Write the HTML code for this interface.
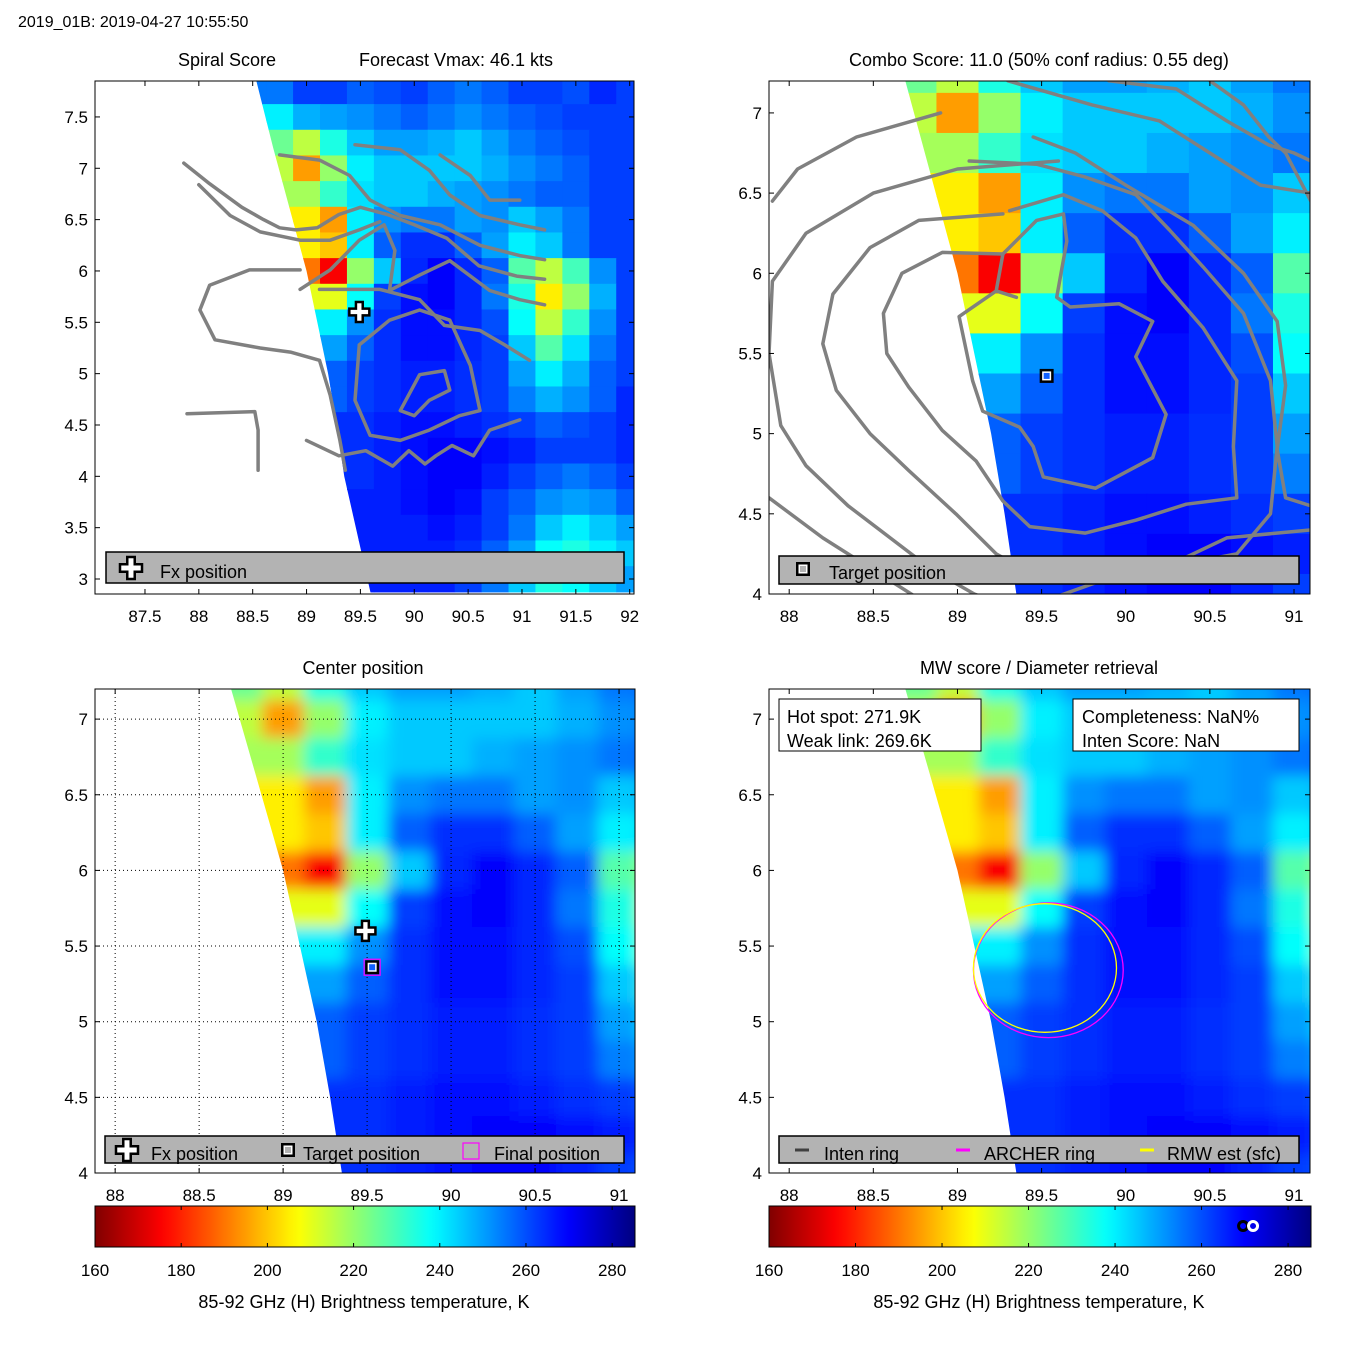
<!DOCTYPE html>
<html><head><meta charset="utf-8"><style>
html,body{margin:0;padding:0;background:#fff}
svg{display:block;font-family:"Liberation Sans",sans-serif}
</style></head><body>
<svg id="root" width="1350" height="1350" viewBox="0 0 1350 1350" xmlns="http://www.w3.org/2000/svg">
<defs id="defs"></defs>
<text x="18" y="27" font-size="16">2019_01B: 2019-04-27 10:55:50</text>
<text x="227" y="66" font-size="18" text-anchor="middle">Spiral Score</text>
<text x="456" y="66" font-size="18" text-anchor="middle">Forecast Vmax: 46.1 kts</text>
<text x="1039" y="66" font-size="18" text-anchor="middle">Combo Score: 11.0  (50% conf radius: 0.55 deg)</text>
<text x="363" y="674" font-size="18" text-anchor="middle">Center position</text>
<text x="1039" y="674" font-size="18" text-anchor="middle">MW score / Diameter retrieval</text>
<text x="364" y="1308" font-size="18" text-anchor="middle">85-92 GHz (H) Brightness temperature, K</text>
<text x="1039" y="1308" font-size="18" text-anchor="middle">85-92 GHz (H) Brightness temperature, K</text>
</svg>
<script>
// ---- data ----
const lons=[88,88.25,88.5,88.75,89,89.25,89.5,89.75,90,90.25,90.5,90.75,91,91.25,91.5,91.75,92];
const lats=[7.75,7.5,7.25,7.0,6.75,6.5,6.25,6.0,5.75,5.5,5.25,5.0,4.75,4.5,4.25,4.0,3.75,3.5,3.25,3.0];
const tb=[
[250,250,250,255,262,262,258,260,262,258,255,258,262,262,260,265,262],
[250,250,250,240,248,250,252,255,258,255,252,255,258,260,262,262,262],
[230,230,230,225,215,235,245,250,250,248,245,250,255,258,260,262,262],
[215,215,215,215,195,220,240,245,245,245,245,248,252,255,258,262,262],
[220,220,220,220,218,232,242,245,245,248,250,252,255,258,258,262,262],
[210,210,210,210,205,195,240,252,255,255,250,252,245,250,255,262,262],
[205,205,205,205,205,200,240,258,264,264,258,250,240,245,255,262,262],
[190,190,190,190,190,175,220,245,265,270,265,258,228,215,230,252,262],
[205,205,205,205,205,210,238,262,268,270,265,255,235,205,220,248,262],
[240,240,240,240,240,240,252,264,268,268,265,260,238,215,232,252,262],
[250,250,250,250,250,250,258,264,268,268,265,262,245,228,242,255,262],
[255,255,255,255,255,258,262,264,266,266,264,262,250,240,248,258,262],
[258,258,258,258,258,258,262,264,266,266,264,262,254,248,252,258,265],
[262,262,262,262,262,262,264,266,268,268,266,264,262,258,260,262,265],
[264,264,264,264,264,264,264,266,268,270,270,268,266,262,262,262,265],
[264,264,264,264,264,264,264,266,268,270,270,266,262,258,255,258,262],
[266,266,266,266,266,266,266,266,268,270,268,262,258,252,250,252,258],
[266,266,266,266,266,266,266,266,266,268,266,262,255,245,240,245,250],
[264,264,264,264,264,264,264,266,266,266,264,258,250,238,235,240,245],
[264,264,264,264,264,264,264,266,266,266,262,255,245,235,238,245,250]];
// swath left edge (lat, lon)
const edgeLat=[7.95,7.2,6.0,5.5,5.0,4.5,4.0,2.7];
const edgeLon=[88.51,88.69,89.0,89.1,89.2,89.28,89.35,89.63];
// panel 1 contours
const c1Lon=[[87.89,88.52,88.55,88.55],[88.94,88.47,88.10,88.01,88.15,88.57,88.85,89.12,89.22,89.31,89.36],[88.0,88.29,88.57,88.94,89.22,89.49,89.68],[88.75,89.12,89.40,89.59,89.87,90.24,90.61,90.98,91.21],[89.45,89.87,90.14,90.33,90.61,90.98,91.21],[88.94,89.22,89.49,89.72,89.82,89.77,90.05,90.33,90.70,90.98,91.21],[89.12,89.68,90.05,90.28,90.61,90.84,91.07],[89.49,89.77,90.05,90.33,90.52,90.61,90.42,90.14,89.87,89.59,89.45,89.49],[89.87,90.05,90.28,90.33,90.14,90.0,89.87],[90.24,90.52,90.70,90.98],[87.86,88.1,88.4,88.6,88.75,88.9,89.1,89.3,89.5,89.75,90.0,90.3,90.6,90.95,91.21],[89.0,89.3,89.55,89.8,89.95,90.1,90.2,90.35,90.55,90.7,90.98]];
const c1Lat=[[4.61,4.63,4.45,4.06],[6.01,6.01,5.86,5.62,5.33,5.25,5.21,5.13,4.79,4.35,4.06],[6.84,6.54,6.38,6.30,6.30,6.40,6.48],[7.13,7.08,6.93,6.69,6.54,6.45,6.25,6.15,6.11],[7.23,7.18,6.98,6.74,6.54,6.45,6.40],[5.82,6.01,6.30,6.45,6.2,5.81,5.96,6.10,5.81,5.72,5.67],[5.82,5.82,5.72,5.47,5.42,5.28,5.13],[5.28,5.52,5.62,5.52,5.08,4.64,4.59,4.45,4.35,4.40,4.74,5.28],[4.64,4.99,5.03,4.84,4.74,4.59,4.64],[7.13,6.93,6.69,6.69],[7.05,6.85,6.62,6.50,6.42,6.40,6.42,6.55,6.62,6.55,6.45,6.32,6.05,5.95,5.92],[4.35,4.2,4.25,4.1,4.25,4.12,4.2,4.3,4.2,4.45,4.55]];
// panel 2 contours
const c2Lon=[[89.35,89.23,89.01,89.09,89.15,89.37,89.45,89.51,89.82,90.16,90.24,90.06,90.16,89.96,89.67,89.59,89.65,89.63,89.47,89.27,89.23],[89.27,88.91,88.67,88.56,88.58,88.71,88.91,89.11,89.27,89.43,89.76,90.06,90.36,90.66,90.64,90.66,90.46,90.22,90.06,89.86,89.63,89.31],[89.27,88.77,88.48,88.26,88.20,88.28,88.48,88.71,88.99,89.23,89.47,89.86,90.26,90.66,90.86,90.90,90.86,90.70,90.46,90.26,90.06,89.76,89.47,89.07],[89.6,89.0,88.5,88.1,87.9,87.88,87.95,88.1,88.35,88.6,88.85,89.1,89.35],[88.9,88.4,88.05,87.9],[87.88,88.2,88.5,88.8,89.1],[89.3,89.8,90.2,90.5,90.8,91.1],[89.9,90.3,90.6,90.85,91.0,91.1],[90.5,90.7,90.85,90.95,91.1],[91.1,90.95,90.9,90.95,90.9,90.7,90.4,90.0,89.7,89.45],[89.5,89.9,90.3,90.6,91.1]];
const c2Lat=[[5.85,5.89,5.73,5.33,5.14,5.04,4.92,4.73,4.66,4.85,5.12,5.48,5.70,5.81,5.79,5.85,6.20,6.37,6.33,6.12,5.89],[6.12,6.13,6.0,5.75,5.50,5.29,5.02,4.83,4.58,4.42,4.38,4.46,4.56,4.60,4.92,5.33,5.66,5.95,6.22,6.39,6.49,6.39],[6.37,6.33,6.16,5.87,5.56,5.27,5.0,4.77,4.50,4.25,4.11,4.08,4.17,4.25,4.5,4.92,5.33,5.75,6.04,6.27,6.49,6.6,6.68,6.70],[6.7,6.65,6.5,6.25,5.95,5.5,5.05,4.8,4.55,4.35,4.15,4.0,3.9],[7.0,6.85,6.65,6.45],[4.6,4.35,4.15,3.95,3.8],[7.2,7.05,6.95,6.75,6.55,6.5],[7.2,7.15,6.95,6.8,6.75,6.7],[7.2,7.05,6.85,6.75,6.45],[4.55,4.6,4.9,5.3,5.7,6.0,6.3,6.55,6.75,6.85],[3.95,4.1,4.2,4.35,4.4]];
// markers
const fxLon=89.49, fxLat=5.6;
const tgtLon=89.53, tgtLat=5.36;
const archerLon=89.54, archerLat=5.34, archerR=0.445;
const rmwLon=89.52, rmwLat=5.355, rmwR=0.425;
const hotSpot=271.9, weakLink=269.6;
const cbTicks=[160,180,200,220,240,260,280];

const NS='http://www.w3.org/2000/svg';
const root=document.getElementById('root');
const defs=document.getElementById('defs');
function el(tag,attrs,parent){const e=document.createElementNS(NS,tag);for(const k in attrs)e.setAttribute(k,attrs[k]);(parent||root).appendChild(e);return e;}
function jet(v){let s=1-(v-160)/125.3;s=Math.max(0,Math.min(1,s));const c=x=>Math.round(255*Math.max(0,Math.min(1,x)));
 return 'rgb('+c(1.5-Math.abs(4*s-3))+','+c(1.5-Math.abs(4*s-2))+','+c(1.5-Math.abs(4*s-1))+')';}
function edgeAt(lat){for(let i=0;i<edgeLat.length-1;i++){if(lat<=edgeLat[i]&&lat>=edgeLat[i+1]){const f=(lat-edgeLat[i])/(edgeLat[i+1]-edgeLat[i]);return edgeLon[i]+f*(edgeLon[i+1]-edgeLon[i]);}}return lat>edgeLat[0]?edgeLon[0]:edgeLon[edgeLon.length-1];}

let pid=0;
function panel(p){
 pid++;
 const X=lon=>p.x0+(lon-p.lonMin)/(p.lonMax-p.lonMin)*(p.x1-p.x0);
 const Y=lat=>p.y1-(lat-p.latMin)/(p.latMax-p.latMin)*(p.y1-p.y0);
 p.X=X;p.Y=Y;
 const g=el('g',{});
 
 
 const cpA=el('clipPath',{id:'ax'+pid},defs);
 el('rect',{x:p.x0,y:p.y0,width:p.x1-p.x0,height:p.y1-p.y0},cpA);
 const cpS=el('clipPath',{id:'sw'+pid},defs);
 let pts=[];
 edgeLat.forEach((la,i)=>pts.push(X(edgeLon[i])+','+Y(la)));
 pts.push((p.x1+100)+','+Y(edgeLat[edgeLat.length-1]));pts.push((p.x1+100)+','+Y(edgeLat[0]));
 el('polygon',{points:pts.join(' ')},cpS);
 const ga=el('g',{'clip-path':'url(#ax'+pid+')'},g);
 const gs=el('g',{'clip-path':'url(#sw'+pid+')'},ga);
 let gh=gs;
 if(p.blur){const f=el('filter',{id:'bl'+pid,x:'-5%',y:'-5%',width:'110%',height:'110%'},defs);el('feGaussianBlur',{stdDeviation:p.blur},f);gh=el('g',{filter:'url(#bl'+pid+')'},gs);}
 
 
 lats.forEach((la,i)=>{
  const e=edgeAt(la);let first=null;
  lons.forEach((lo,j)=>{if(first===null&&lo>=e)first=tb[i][j];});
  lons.forEach((lo,j)=>{
   const v=(lo<e&&first!==null)?first:tb[i][j];
   const r=el('rect',{x:X(lo-0.125),y:Y(la+0.125),width:X(lo+0.125)-X(lo-0.125)+0.6,height:Y(la-0.125)-Y(la+0.125)+0.6,fill:jet(v)},gh);
   
   
  });
 });
 if(p.grid){
  p.xt.forEach(t=>{const l=el('line',{x1:X(t),x2:X(t),y1:p.y0,y2:p.y1,stroke:'#000','stroke-width':1,'stroke-dasharray':'1,3'},g);});
  p.yt.forEach(t=>{const l=el('line',{x1:p.x0,x2:p.x1,y1:Y(t),y2:Y(t),stroke:'#000','stroke-width':1,'stroke-dasharray':'1,3'},g);});
 }
 if(p.cLon){p.cLon.forEach((arr,k)=>{
  const d=arr.map((lo,m)=>(m?'L':'M')+X(lo).toFixed(1)+','+Y(p.cLat[k][m]).toFixed(1)).join(' ');
  const c=el('path',{d:d,fill:'none',stroke:'#808080','stroke-width':3.5,'stroke-linejoin':'round','stroke-linecap':'round'},ga);
  
  
 });}
 const fr=el('rect',{x:p.x0,y:p.y0,width:p.x1-p.x0,height:p.y1-p.y0,fill:'none',stroke:'#000','stroke-width':1},g);
 
 
 p.xt.forEach(t=>{const x=X(t);
  el('line',{x1:x,x2:x,y1:p.y1,y2:p.y1-5,stroke:'#000'},g);el('line',{x1:x,x2:x,y1:p.y0,y2:p.y0+5,stroke:'#000'},g);
  const tx=el('text',{x:x,y:p.y1+28,'font-size':17,'text-anchor':'middle'},g);tx.textContent=String(t);
  
  
 });
 p.yt.forEach(t=>{const y=Y(t);
  el('line',{x1:p.x0,x2:p.x0+5,y1:y,y2:y,stroke:'#000'},g);el('line',{x1:p.x1,x2:p.x1-5,y1:y,y2:y,stroke:'#000'},g);
  const tx=el('text',{x:p.x0-7,y:y+6,'font-size':17,'text-anchor':'end'},g);tx.textContent=String(t);
  
  
 });
 return g;
}
function cross(g,cx,cy,s){const a=s*0.17,b=s*0.5;
 const d=`M${cx-a},${cy-b}H${cx+a}V${cy-a}H${cx+b}V${cy+a}H${cx+a}V${cy+b}H${cx-a}V${cy+a}H${cx-b}V${cy-a}H${cx-a}Z`;
 return el('path',{d:d,fill:'#fff',stroke:'#000','stroke-width':2.5},g);}
function square(g,cx,cy,inner){const o=el('g',{},g);
 el('rect',{x:cx-7,y:cy-7,width:14,height:14,fill:'#000'},o);el('rect',{x:cx-4.5,y:cy-4.5,width:9,height:9,fill:'#fff'},o);el('rect',{x:cx-3,y:cy-3,width:6,height:6,fill:inner},o);return o;}
function legendBox(g,x,y,w,h){const r=el('rect',{x:x,y:y,width:w,height:h,fill:'#b3b3b3',stroke:'#000','stroke-width':1.5},g);return r;}
function txt(g,x,y,s,size){const t=el('text',{x:x,y:y,'font-size':size||18},g);t.textContent=s;return t;}

const xt1=[87.5,88,88.5,89,89.5,90,90.5,91,91.5,92],yt1=[3,3.5,4,4.5,5,5.5,6,6.5,7,7.5];
const xt2=[88,88.5,89,89.5,90,90.5,91],yt2=[4,4.5,5,5.5,6,6.5,7];
const P1={name:'spiral-score-panel',x0:95,x1:634,y0:81,y1:594,lonMin:87.036,lonMax:92.04,latMin:2.854,latMax:7.85,xt:xt1,yt:yt1,cLon:c1Lon,cLat:c1Lat};
const g1=panel(P1);
let m=cross(g1,P1.X(fxLon),P1.Y(fxLat),20);
legendBox(g1,106,552,518,31);
let li=cross(g1,131,568,22);
let lt=txt(g1,160,578,'Fx position');
const P2={name:'combo-score-panel',x0:769,x1:1310,y0:81,y1:594,lonMin:87.88,lonMax:91.095,latMin:4,latMax:7.199,xt:xt2,yt:yt2,cLon:c2Lon,cLat:c2Lat};
const g2=panel(P2);
m=square(g2,P2.X(tgtLon),P2.Y(tgtLat),'#1060ff');
legendBox(g2,779,556,520,28);
li=square(g2,803,569,'#b3b3b3');
lt=txt(g2,829,579,'Target position');
const P3={name:'center-position-panel',x0:95,x1:635,y0:689,y1:1173,lonMin:87.88,lonMax:91.095,latMin:4,latMax:7.199,xt:xt2,yt:yt2,grid:true,blur:7};
const g3=panel(P3);
m=cross(g3,P3.X(fxLon),P3.Y(fxLat),20);
m=square(g3,P3.X(tgtLon),P3.Y(tgtLat),'#1060ff');
m=el('rect',{x:P3.X(tgtLon)-8,y:P3.Y(tgtLat)-8,width:16,height:16,fill:'none',stroke:'#ff00ff','stroke-width':1.2},g3);
legendBox(g3,105,1136,519,27);
li=cross(g3,127,1150,22);
lt=txt(g3,151,1160,'Fx position');
li=square(g3,288,1150,'#b3b3b3');
lt=txt(g3,303,1160,'Target position');
li=el('rect',{x:463,y:1143,width:16,height:16,fill:'none',stroke:'#ff00ff','stroke-width':1.2},g3);
lt=txt(g3,494,1160,'Final position');
const P4={name:'mw-score-panel',x0:769,x1:1310,y0:689,y1:1173,lonMin:87.88,lonMax:91.095,latMin:4,latMax:7.199,xt:xt2,yt:yt2,blur:7};
const g4=panel(P4);
const sx=(P4.x1-P4.x0)/(P4.lonMax-P4.lonMin),sy=(P4.y1-P4.y0)/(P4.latMax-P4.latMin);
m=el('ellipse',{cx:P4.X(archerLon),cy:P4.Y(archerLat),rx:archerR*sx,ry:archerR*sy,fill:'none',stroke:'#ff00ff','stroke-width':1.3},g4);
m=el('ellipse',{cx:P4.X(rmwLon),cy:P4.Y(rmwLat),rx:rmwR*sx,ry:rmwR*sy,fill:'none',stroke:'#ffff00','stroke-width':1.3},g4);
let bx=el('rect',{x:779,y:699,width:202,height:52,fill:'#fff',stroke:'#000','stroke-width':1},g4);
lt=txt(g4,787,723,'Hot spot: '+hotSpot.toFixed(1)+'K');
lt=txt(g4,787,747,'Weak link: '+weakLink.toFixed(1)+'K');
bx=el('rect',{x:1073,y:699,width:226,height:52,fill:'#fff',stroke:'#000','stroke-width':1},g4);
lt=txt(g4,1082,723,'Completeness: NaN%');
lt=txt(g4,1082,747,'Inten Score: NaN');
legendBox(g4,779,1136,520,27);
li=el('line',{x1:795,x2:809,y1:1150,y2:1150,stroke:'#404040','stroke-width':3},g4);
lt=txt(g4,824,1160,'Inten ring');
li=el('line',{x1:956,x2:970,y1:1150,y2:1150,stroke:'#ff00ff','stroke-width':3},g4);
lt=txt(g4,984,1160,'ARCHER ring');
li=el('line',{x1:1140,x2:1154,y1:1150,y2:1150,stroke:'#ffff00','stroke-width':3},g4);
lt=txt(g4,1167,1160,'RMW est (sfc)');

const grad=el('linearGradient',{id:'jetg',x1:0,x2:1,y1:0,y2:0},defs);
for(let v=160;v<=285.3;v+=2.5){el('stop',{offset:((v-160)/125.3).toFixed(4),'stop-color':jet(v)},grad);}
function colorbar(x0,x1,name,marks){
 const g=el('g',{});
 
 
 const C=v=>x0+(v-160)/125.3*(x1-x0);
 el('rect',{x:x0,y:1206,width:x1-x0,height:41,fill:'url(#jetg)',stroke:'#000','stroke-width':1},g);
 cbTicks.forEach(t=>{const x=C(t);el('line',{x1:x,x2:x,y1:1206,y2:1210,stroke:'#000'},g);el('line',{x1:x,x2:x,y1:1247,y2:1243,stroke:'#000'},g);
  const tx=el('text',{x:x,y:1276,'font-size':17,'text-anchor':'middle'},g);tx.textContent=String(t);
  
  });
 if(marks){
  let c=el('circle',{cx:C(weakLink),cy:1226,r:4.5,fill:'none',stroke:'#000','stroke-width':3},g);
  c=el('circle',{cx:C(hotSpot),cy:1226,r:4.5,fill:'none',stroke:'#fff','stroke-width':3},g);
 }
}
colorbar(95,635,'colorbar-left',false);
colorbar(769,1311,'colorbar-right',true);
</script>
</body></html>
